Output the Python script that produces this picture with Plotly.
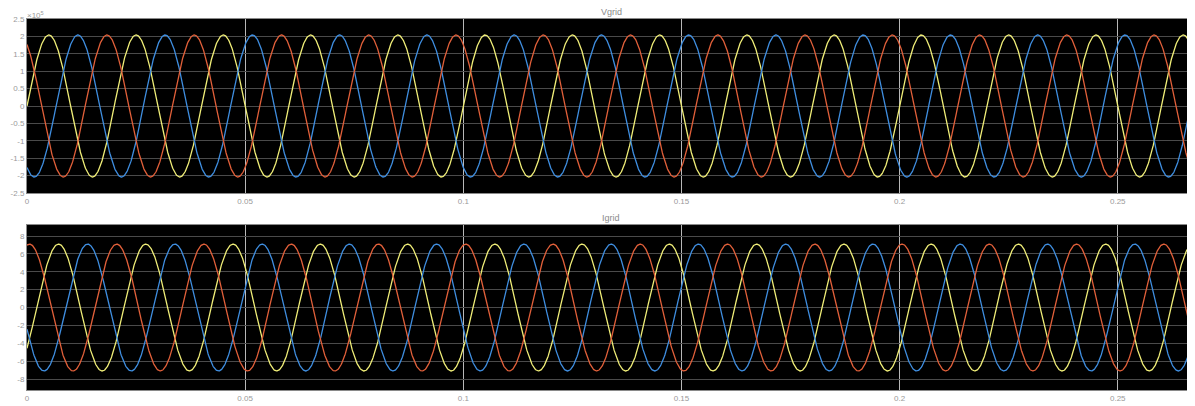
import numpy as np
import plotly.graph_objects as go
from plotly.subplots import make_subplots

# ---- values ----
phase_names = ["A", "B", "C"]
phase_colors = ["#f0ee78", "#3f8ee0", "#e2603a"]   # yellow, blue, red
grid_freq_hz = 50.0
v_amplitude = 2.04e5
v_phase_deg = [0.0, -120.0, 120.0]
i_amplitude = 7.1
i_lag_deg = 40.0
t_end = 0.27
t_step = 0.0001

x_tick_vals = [0, 0.05, 0.1, 0.15, 0.2, 0.25]
x_tick_text = ["0", "0.05", "0.1", "0.15", "0.2", "0.25"]
v_tick_vals = [-2.5, -2, -1.5, -1, -0.5, 0, 0.5, 1, 1.5, 2, 2.5]
v_tick_text = ["-2.5", "-2", "-1.5", "-1", "-0.5", "0", "0.5", "1", "1.5", "2", "2.5"]
i_tick_vals = [-8, -6, -4, -2, 0, 2, 4, 6, 8]
i_tick_text = ["-8", "-6", "-4", "-2", "0", "2", "4", "6", "8"]
panel_titles = ["Vgrid", "Igrid"]

t = np.arange(0, t_end + t_step, t_step)
w = 2 * np.pi * grid_freq_hz

fig = make_subplots(rows=2, cols=1, shared_xaxes=False)

for name, col, ph in zip(phase_names, phase_colors, v_phase_deg):
    v = v_amplitude * np.sin(w * t + np.deg2rad(ph)) / 1e5
    fig.add_trace(go.Scatter(x=t, y=v, mode="lines", name="V" + name,
                             line=dict(color=col, width=1.3), showlegend=False),
                  row=1, col=1)
for name, col, ph in zip(phase_names, phase_colors, v_phase_deg):
    i = i_amplitude * np.sin(w * t + np.deg2rad(ph - i_lag_deg))
    fig.add_trace(go.Scatter(x=t, y=i, mode="lines", name="I" + name,
                             line=dict(color=col, width=1.3), showlegend=False),
                  row=2, col=1)

tick_font = dict(family="Liberation Sans, Arial, sans-serif", size=8, color="#9a9a9a")
ax_common = dict(showline=True, linecolor="#8a8a8a", linewidth=1, mirror=True,
                 ticks="", tickfont=tick_font, zeroline=False, automargin=False)

fig.update_layout(
    width=1187, height=398,
    margin=dict(l=19, r=0, t=11, b=16, autoexpand=False),
    paper_bgcolor="white", plot_bgcolor="black",
    xaxis=dict(domain=[0, 1], range=[0, 0.2677], tickvals=x_tick_vals, ticktext=x_tick_text,
               showgrid=True, gridcolor="#b8b8b8", gridwidth=1, anchor="y", **ax_common),
    yaxis=dict(domain=[0.531, 1], range=[-2.5, 2.5], tickvals=v_tick_vals, ticktext=v_tick_text,
               showgrid=True, gridcolor="#4a4a4a", gridwidth=1, anchor="x", **ax_common),
    xaxis2=dict(domain=[0, 1], range=[0, 0.2677], tickvals=x_tick_vals, ticktext=x_tick_text,
                showgrid=True, gridcolor="#b8b8b8", gridwidth=1, anchor="y2", **ax_common),
    yaxis2=dict(domain=[0, 0.4447], range=[-9.23, 9.23], tickvals=i_tick_vals, ticktext=i_tick_text,
                showgrid=True, gridcolor="#4a4a4a", gridwidth=1, anchor="x2", **ax_common),
)

fig.add_annotation(text=panel_titles[0], xref="paper", yref="paper", x=0.5, y=1.0,
                   yanchor="bottom", xanchor="center", showarrow=False, yshift=0,
                   font=dict(family="Liberation Sans, Arial, sans-serif", size=9, color="#8a8a8a"))
fig.add_annotation(text=panel_titles[1], xref="paper", yref="paper", x=0.5, y=0.4447,
                   yanchor="bottom", xanchor="center", showarrow=False, yshift=0,
                   font=dict(family="Liberation Sans, Arial, sans-serif", size=9, color="#8a8a8a"))
fig.add_annotation(text="×10<sup>5</sup>", xref="paper", yref="paper", x=0.0, y=1.0,
                   yanchor="bottom", xanchor="left", showarrow=False, yshift=-3, xshift=-2,
                   font=dict(family="Liberation Sans, Arial, sans-serif", size=8, color="#9a9a9a"))

fig.write_html("out.html")
